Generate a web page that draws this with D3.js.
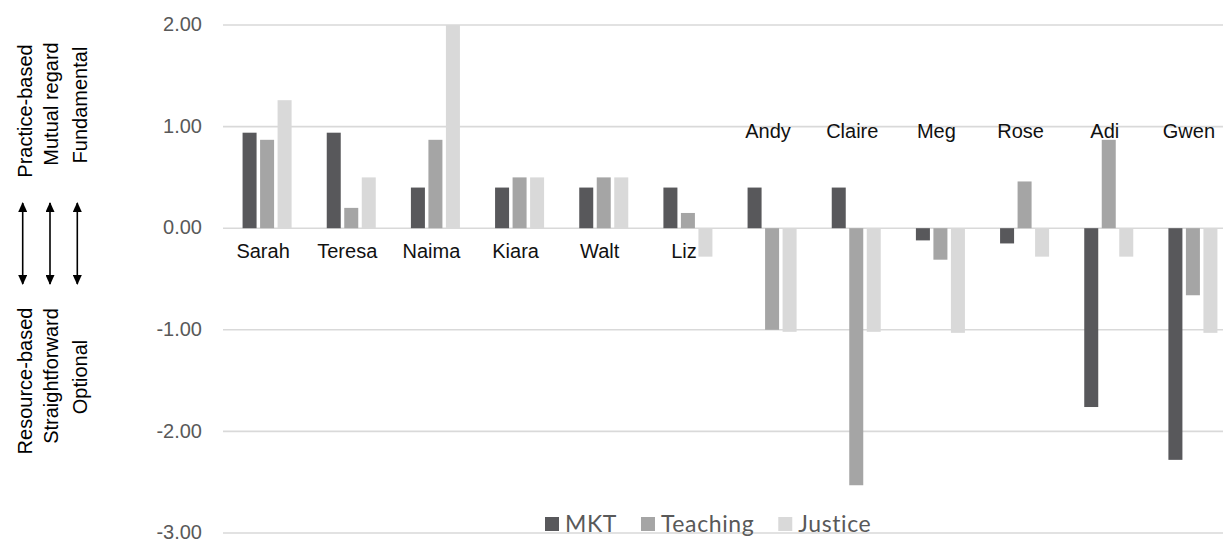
<!DOCTYPE html>
<html lang="en">
<head>
  <meta charset="UTF-8">
  <title>MKT / Teaching / Justice</title>
  <style>
    body {
      margin: 0;
      background: #ffffff;
    }
    svg {
      display: block;
      font-family: "Liberation Sans", Arial, sans-serif;
    }
  </style>
</head>
<body>
  <svg id="chart" width="1223" height="544"></svg>

  <script src="https://d3js.org/d3.v7.min.js"></script>
  <script>
    // values
    const teachers = ["Sarah", "Teresa", "Naima", "Kiara", "Walt", "Liz",
                      "Andy", "Claire", "Meg", "Rose", "Adi", "Gwen"];
    const series = ["MKT", "Teaching", "Justice"];
    const mkt      = [0.94, 0.94, 0.40, 0.40, 0.40, 0.40, 0.40, 0.40, -0.12, -0.15, -1.76, -2.28];
    const teaching = [0.87, 0.20, 0.87, 0.50, 0.50, 0.15, -1.00, -2.53, -0.31, 0.46, 0.87, -0.66];
    const justice  = [1.26, 0.50, 2.00, 0.50, 0.50, -0.28, -1.02, -1.02, -1.03, -0.28, -0.28, -1.03];
    const yTicks = [2, 1, 0, -1, -2, -3];
    const upperLabels = ["Practice-based", "Mutual regard", "Fundamental"];
    const lowerLabels = ["Resource-based", "Straightforward", "Optional"];

    const colors = ["#58585b", "#a5a5a5", "#d9d9d9"];
    const values = [mkt, teaching, justice];

    const svg = d3.select("#chart");

    const x0 = d3.scaleBand()
      .domain(teachers)
      .range([225, 1235])
      .paddingInner(0.376)
      .paddingOuter(0.188);

    const x1 = d3.scaleBand()
      .domain(series)
      .range([0, x0.bandwidth()])
      .paddingInner(0.2)
      .paddingOuter(0.1);

    const y = d3.scaleLinear()
      .domain([-3, 2])
      .range([533, 25]);

    // gridlines
    svg.append("g")
      .selectAll("line")
      .data(yTicks)
      .join("line")
      .attr("x1", 223)
      .attr("x2", 1235)
      .attr("y1", d => y(d))
      .attr("y2", d => y(d))
      .attr("stroke", "#d9d9d9")
      .attr("stroke-width", 1.6);

    // tick labels (plain hyphen minus, as in the original)
    svg.append("g")
      .selectAll("text")
      .data(yTicks)
      .join("text")
      .attr("x", 202)
      .attr("y", d => y(d) + 1)
      .attr("text-anchor", "end")
      .attr("dominant-baseline", "middle")
      .attr("font-size", "20px")
      .attr("fill", "#595959")
      .text(d => d.toFixed(2));

    // bars
    const groups = svg.append("g")
      .selectAll("g")
      .data(teachers)
      .join("g")
      .attr("transform", d => `translate(${x0(d)},0)`);

    groups.selectAll("rect")
      .data((d, i) => series.map((s, k) => ({ s, k, v: values[k][i] })))
      .join("rect")
      .attr("x", d => x1(d.s))
      .attr("width", x1.bandwidth())
      .attr("y", d => y(Math.max(0, d.v)))
      .attr("height", d => Math.abs(y(d.v) - y(0)))
      .attr("fill", d => colors[d.k]);

    // teacher names: below the zero line for the first six, up near 1.00 for the rest
    svg.append("g")
      .selectAll("text")
      .data(teachers)
      .join("text")
      .attr("x", d => x0(d) + x0.bandwidth() / 2 - 4)
      .attr("y", (d, i) => i < 6 ? y(0) + 30 : y(1) + 11)
      .attr("text-anchor", "middle")
      .attr("font-size", "20px")
      .attr("fill", "#111")
      .text(d => d);

    // left-hand scale descriptions with double arrows
    const colX = [32, 58, 87];

    svg.append("defs").append("marker")
      .attr("id", "head")
      .attr("viewBox", "0 0 10 10")
      .attr("refX", 9)
      .attr("refY", 5)
      .attr("markerWidth", 10)
      .attr("markerHeight", 9)
      .attr("markerUnits", "userSpaceOnUse")
      .attr("orient", "auto-start-reverse")
      .attr("preserveAspectRatio", "none")
      .append("path")
      .attr("d", "M0,0 L10,5 L0,10 Z")
      .attr("fill", "#000");

    const upperCenters = [111, 104, 105];
    const lowerCenters = [381, 376, 377];

    svg.append("g")
      .selectAll("text")
      .data(upperLabels)
      .join("text")
      .attr("transform", (d, i) => `translate(${colX[i]},${upperCenters[i]}) rotate(-90)`)
      .attr("text-anchor", "middle")
      .attr("font-size", "20px")
      .attr("fill", "#000")
      .text(d => d);

    svg.append("g")
      .selectAll("text")
      .data(lowerLabels)
      .join("text")
      .attr("transform", (d, i) => `translate(${colX[i]},${lowerCenters[i]}) rotate(-90)`)
      .attr("text-anchor", "middle")
      .attr("font-size", "20px")
      .attr("fill", "#000")
      .text(d => d);

    const arrowX = [22.7, 50, 77.3];
    svg.append("g")
      .selectAll("line")
      .data(arrowX)
      .join("line")
      .attr("x1", d => d)
      .attr("x2", d => d)
      .attr("y1", 203)
      .attr("y2", 284)
      .attr("stroke", "#000")
      .attr("stroke-width", 1.6)
      .attr("marker-start", "url(#head)")
      .attr("marker-end", "url(#head)");

    // legend
    const legend = svg.append("g")
      .attr("font-family", "Lato, 'Open Sans', sans-serif")
      .attr("font-size", "23px")
      .attr("fill", "#595959");

    let lx = 545;
    series.forEach((s, k) => {
      legend.append("rect")
        .attr("x", lx)
        .attr("y", 517)
        .attr("width", 14)
        .attr("height", 14)
        .attr("fill", colors[k]);
      const t = legend.append("text")
        .attr("x", lx + 20)
        .attr("y", 532)
        .attr("letter-spacing", "0.6px")
        .text(s);
      lx += 20 + t.node().getComputedTextLength() + 24;
    });
  </script>
</body>
</html>
